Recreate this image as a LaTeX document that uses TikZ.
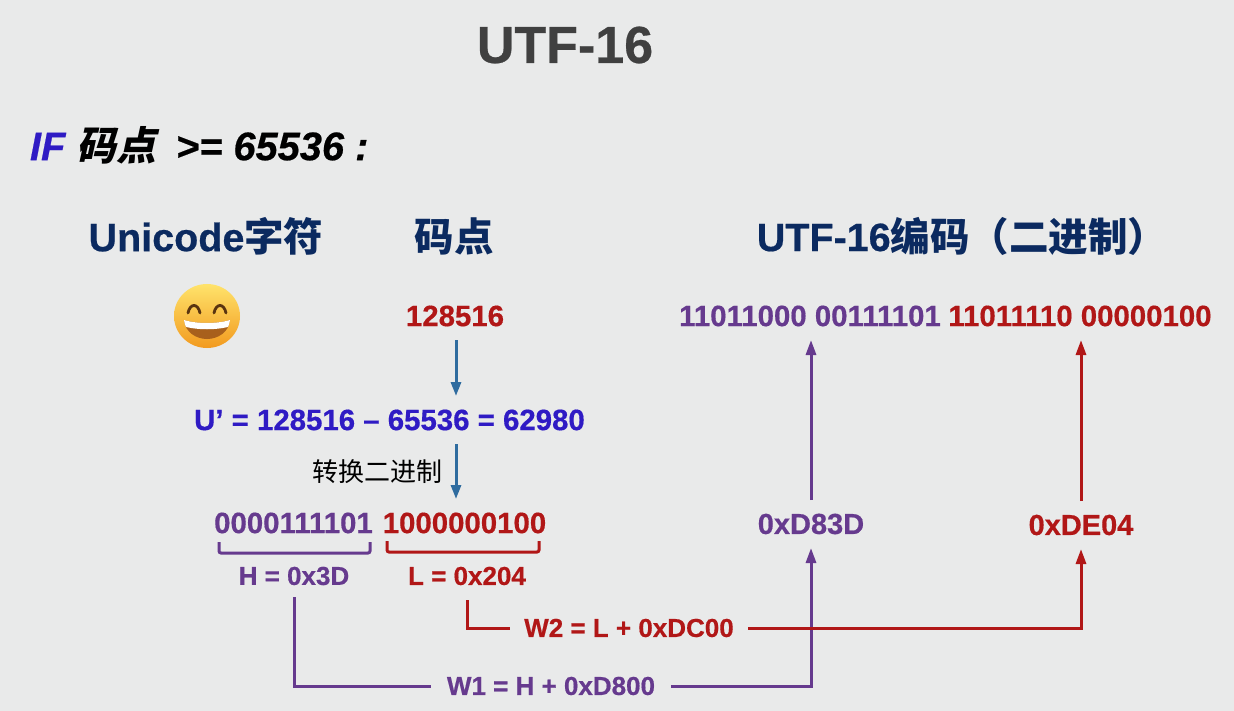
\documentclass[tikz,border=0pt]{standalone}
\usepackage{fontspec}
\setmainfont[BoldFeatures={FakeBold=0.5},BoldItalicFeatures={FakeBold=0.5}]{Liberation Sans}
\newfontfamily\cjk{Noto Sans CJK SC}
\newfontfamily\cjkit[FakeSlant=0.22]{Noto Sans CJK SC Bold}
\usetikzlibrary{arrows.meta,calc}
\definecolor{bgc}{HTML}{E9EAEA}
\definecolor{purp}{HTML}{663A8E}
\definecolor{redc}{HTML}{B11717}
\definecolor{bluec}{HTML}{2F1BC4}
\definecolor{navy}{HTML}{0B2A60}
\definecolor{titlec}{HTML}{404040}
\definecolor{arrowb}{HTML}{2F6C9F}
\definecolor{emojit}{HTML}{FFE36B}
\definecolor{emojib}{HTML}{F29A1F}
\definecolor{emojid}{HTML}{5A3410}
\definecolor{emojim}{HTML}{A8601C}
\newcommand{\fsz}[1]{\fontsize{#1}{#1}\selectfont}
\tikzset{
  x=1pt,y=-1pt,
  txt/.style={inner sep=0pt,outer sep=0pt,font=\bfseries\fsz{29.4}},
  row/.style={txt,minimum height=48pt},
  head/.style={txt,text=navy,font=\bfseries\fsz{39.5}},
  small/.style={row,font=\bfseries\fsz{26}},
  conn/.style={line width=3pt},
  parr/.style={conn,draw=purp,-{Triangle[length=15pt,width=10pt,fill=purp]}},
  rarr/.style={conn,draw=redc,-{Triangle[length=15pt,width=10pt,fill=redc]}},
  barr/.style={line width=3pt,draw=arrowb,-{Triangle[length=14pt,width=10pt,fill=arrowb]}},
  brace/.style={line width=3pt,rounded corners=2pt}
}
\begin{document}
\begin{tikzpicture}
\useasboundingbox[fill=bgc] (0,0) rectangle (1234,711);
\node[txt,text=titlec,font=\bfseries\fsz{52}] (title) at (565,45) {UTF-16};
\node[txt,anchor=west,font=\bfseries\itshape\fsz{39.8}] (cond) at (30,145) {\textcolor{bluec}{IF} {\cjkit 码点}\hspace{0.5em}>= 65536 :};
\node[head] (h1) at (206,236) {Unicode{\cjk 字符}};
\node[head] (h2) at (454,236) {\cjk 码点};
\node[head] (h3) at (962,236) {UTF-16{\cjk 编码（二进制）}};
% emoji
\begin{scope}[shift={(207,316)}]
  \shade[top color=emojit,bottom color=emojib] (0,0) ellipse [x radius=33,y radius=32];
  \draw[line width=2.8pt,line cap=round,draw=emojid] (-19,-3) .. controls (-17,-13) and (-9,-13) .. (-7,-3);
  \draw[line width=2.8pt,line cap=round,draw=emojid] (7,-3) .. controls (9,-13) and (17,-13) .. (19,-3);
  \fill[emojim] (-23,4) .. controls (-10,8) and (10,8) .. (23,4) .. controls (22,16) and (11,23) .. (0,23) .. controls (-11,23) and (-22,16) .. (-23,4) -- cycle;
  \fill[white] (-23,4) .. controls (-10,8) and (10,8) .. (23,4) .. controls (22.7,7) and (22,9) .. (21,11) .. controls (8,14) and (-8,14) .. (-21,11) .. controls (-22,9) and (-22.7,7) .. (-23,4) -- cycle;
\end{scope}
\node[row,text=redc] (cp) at (455,316) {128516};
\node[row,text=purp] (hi) at (810,316) {11011000 00111101};
\node[row,text=redc] (lo) at (1080,316) {11011110 00000100};
\node[row,text=bluec] (up) at (389.5,420) {U’ = 128516 – 65536 = 62980};
\node[txt,font=\cjk\fsz{26}] (conv) at (377,472) {转换二进制};
\node[row,text=purp] (b1) at (293.5,523) {0000111101};
\node[row,text=redc] (b2) at (464.5,523) {1000000100};
\node[row,text=purp,font=\bfseries\fsz{29}] (dh) at (811,524) {0xD83D};
\node[row,text=redc,font=\bfseries\fsz{29}] (dl) at (1081,525) {0xDE04};
\node[small,text=purp,minimum height=42pt] (hv) at (294,576) {H = 0x3D};
\node[small,text=redc] (lv) at (467,576) {L = 0x204};
\node[small,text=redc,minimum width=238pt] (w2) at (629,628) {W2 = L + 0xDC00};
\node[small,text=purp,minimum width=240pt] (w1) at (551,686) {W1 = H + 0xD800};
% brackets
\coordinate (b1l) at (219,542); \coordinate (b1r) at (370,542);
\coordinate (b2l) at (387,541); \coordinate (b2r) at (539,541);
\draw[brace,draw=purp] (b1l) -- ($(b1l)+(0,11)$) -- ($(b1r)+(0,11)$) -- (b1r);
\draw[brace,draw=redc] (b2l) -- ($(b2l)+(0,11)$) -- ($(b2r)+(0,11)$) -- (b2r);
% connectors
\draw[barr] (cp.south) ++(1,0) -- (456,396);
\draw[barr] (456,444) -- (b2.north -| 456,0);
\draw[parr] (dh.north) -- (dh.north |- hi.south);
\draw[rarr] (dl.north) -- (dl.north |- lo.south);
\draw[conn,draw=purp] (hv.south) |- (w1.west);
\draw[parr] (w1.east) -| (dh.south);
\draw[conn,draw=redc] (lv.south) |- (w2.west);
\draw[rarr] (w2.east) -| (dl.south);
\end{tikzpicture}
\end{document}
